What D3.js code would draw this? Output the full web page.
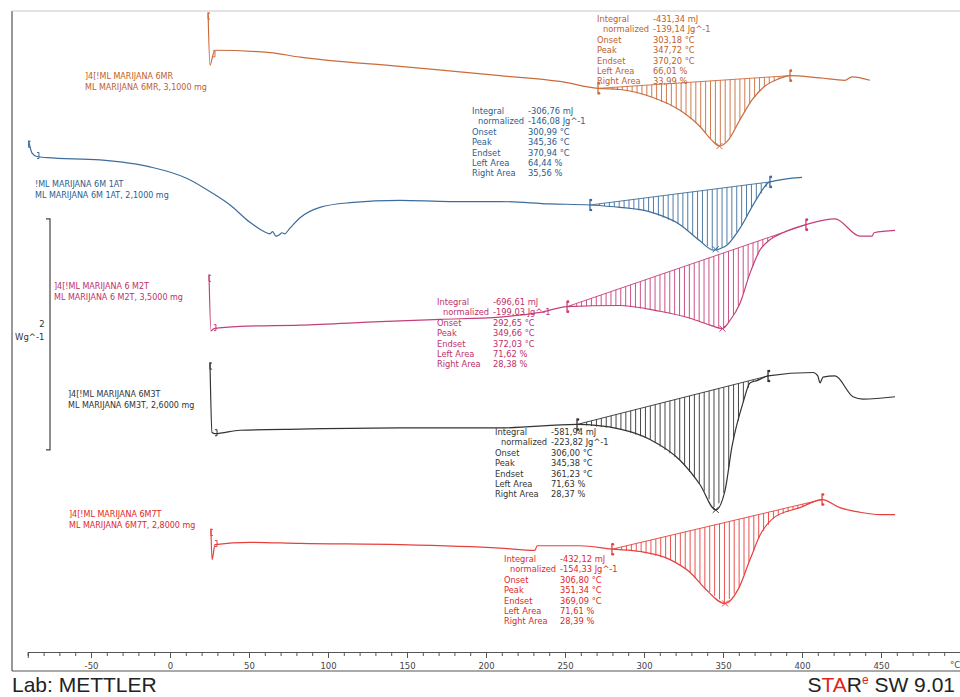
<!DOCTYPE html>
<html><head><meta charset="utf-8">
<script src="https://cdn.jsdelivr.net/npm/d3@7/dist/d3.min.js"></script>
<style>body{margin:0;background:#fff}svg{display:block}</style>
</head><body>
<svg id="chart" width="960" height="697"></svg>
<script>
// ---------------- DATA ----------------
// Temperature axis ticks (°C)
const majorTicks = [-50, 0, 50, 100, 150, 200, 250, 300, 350, 400, 450];
const minorTicks = d3.range(-90, 501, 10);

// Curves: [temperature °C, heat flow W/g (shifted display value)]
const curve6MR = [[24.1,5.54],[25.3,5.08],[27.2,5.17],[28.5,5.21],[63.3,5.19],[82.3,5.15],[145.6,5.07],[208.9,4.99],[246.8,4.94],[270.9,4.88],[284.8,4.87],[303.8,4.81],[322.8,4.69],[335.4,4.55],[343,4.43],[347.7,4.38],[353.2,4.43],[360.8,4.61],[368.4,4.78],[376.6,4.90],[384.8,4.96],[392.4,4.99],[411.4,4.97],[427.2,4.95],[431.6,4.98],[443,4.95]];
const curve6M1AT = [[-89.5,4.43],[-87.3,4.32],[-84.2,4.29],[-77.8,4.28],[-44.3,4.26],[-12.7,4.20],[10.8,4.10],[27.2,3.97],[38,3.87],[50.6,3.72],[58.2,3.65],[61,3.63],[63.3,3.62],[65,3.64],[67.1,3.60],[69,3.61],[70.9,3.63],[72.5,3.62],[75.9,3.67],[82.3,3.76],[94.9,3.85],[113.9,3.89],[145.6,3.91],[177.2,3.90],[208.9,3.90],[240.5,3.88],[265.8,3.87],[284.8,3.85],[303.8,3.81],[322.8,3.70],[335.4,3.56],[343.7,3.48],[351.3,3.51],[360.8,3.67],[370.3,3.90],[379.7,4.07],[400,4.11]];
const curve6M2T = [[24.7,3.27],[25.9,2.78],[27.8,2.80],[44.3,2.82],[82.3,2.83],[132.9,2.86],[170.9,2.88],[208.9,2.90],[234.2,2.94],[251.3,2.99],[284.2,3.00],[310,2.95],[329.1,2.89],[341.8,2.83],[349.7,2.80],[354.4,2.87],[360.8,3.02],[367.1,3.28],[373.4,3.48],[379.7,3.57],[387.9,3.63],[402.5,3.70],[420.9,3.75],[436.7,3.60],[444.3,3.60],[445.6,3.63],[458.9,3.65]];
const curve6M3T = [[25.3,2.51],[26.6,1.90],[28.5,1.89],[44.3,1.92],[82.3,1.93],[145.6,1.94],[208.9,1.94],[257.6,1.97],[284.8,1.93],[303.8,1.84],[322.8,1.66],[335.4,1.45],[345.4,1.23],[351.3,1.40],[355.7,1.78],[362.7,2.16],[367.1,2.33],[371.5,2.35],[378.5,2.39],[407,2.42],[410,2.39],[411.4,2.33],[413.3,2.38],[420.9,2.39],[432.3,2.21],[438.6,2.19],[458.9,2.21]];
const curve6M7T = [[25.9,1.07],[26.6,0.80],[28.5,0.93],[50.6,0.95],[82.3,0.94],[145.6,0.93],[208.9,0.90],[231,0.88],[232.3,0.92],[259.5,0.92],[279.7,0.89],[297.5,0.87],[316.5,0.80],[329.1,0.69],[338.6,0.55],[351.3,0.42],[359.5,0.54],[367.1,0.80],[373.4,1.01],[382.9,1.17],[398.7,1.25],[412.7,1.32],[424,1.25],[436.7,1.21],[449.4,1.19],[458.9,1.19]];

// Sample descriptors
const sampleIds    = ["]4[!ML MARIJANA 6MR", "!ML MARIJANA 6M 1AT", "]4[!ML MARIJANA 6 M2T", "]4[!ML MARIJANA 6M3T", "]4[!ML MARIJANA 6M7T"];
const sampleNames  = ["ML MARIJANA 6MR", "ML MARIJANA 6M 1AT", "ML MARIJANA 6 M2T", "ML MARIJANA 6M3T", "ML MARIJANA 6M7T"];
const sampleMass   = ["3,1000", "2,1000", "3,5000", "2,6000", "2,8000"];

// Integration limits (°C)
const intStart = [270.9, 265.8, 251.3, 257.6, 279.7];
const intEnd   = [392.4, 379.7, 402.5, 378.5, 412.7];

// Evaluation results
const integralMJ  = [-431.34, -306.76, -696.61, -581.94, -432.12];
const normalized  = [-139.14, -146.08, -199.03, -223.82, -154.33];
const onsetC      = [303.18, 300.99, 292.65, 306.00, 306.80];
const peakC       = [347.72, 345.36, 349.66, 345.38, 351.34];
const endsetC     = [370.20, 370.94, 372.03, 361.23, 369.09];
const leftArea    = [66.01, 64.44, 71.62, 71.63, 71.61];
const rightArea   = [33.99, 35.56, 28.38, 28.37, 28.39];

// ---------------- STYLE / LAYOUT ----------------
const curves = [curve6MR, curve6M1AT, curve6M2T, curve6M3T, curve6M7T];
const lineColors = ["#c96c3c", "#3d6d9c", "#c4407a", "#333333", "#e6403c"];
const textColors = ["#c0602a", "#2b5d8f", "#c0306a", "#333333", "#e02828"];
const labelPos = [[85,79],[35,187],[54,289],[68,397],[69,517]];
const annoPos  = [[597,22],[472,114],[437,305],[495,435],[504,562]];

const svg = d3.select("#chart");
const x = d3.scaleLinear().domain([-90, 500]).range([27.8, 960]);
const y = d3.scaleLinear().domain([0, 5.6]).range([652, 652 - 5.6 * 115.5]);

// frame
svg.append("line").attr("x1",12).attr("x2",12).attr("y1",11).attr("y2",671).attr("stroke","#555").attr("stroke-width",1.2);
svg.append("line").attr("x1",12).attr("x2",960).attr("y1",671).attr("y2",671).attr("stroke","#555").attr("stroke-width",1.2);
svg.append("line").attr("x1",12).attr("x2",960).attr("y1",11).attr("y2",11).attr("stroke","#c8c8c8").attr("stroke-width",1);

// axis
const gMinor = svg.append("g").attr("transform","translate(0,652)")
  .call(d3.axisBottom(x).tickValues(minorTicks).tickSize(4).tickFormat(""));
const gMajor = svg.append("g").attr("transform","translate(0,652)")
  .call(d3.axisBottom(x).tickValues(majorTicks).tickSize(6).tickPadding(5).tickFormat(d => String(d)));
[gMinor, gMajor].forEach(g => {
  g.select(".domain").attr("stroke","#555");
  g.selectAll(".tick line").attr("stroke","#555");
  g.selectAll("text").attr("font-family","DejaVu Sans").attr("font-size",8.5).attr("fill","#444");
});
svg.append("text").attr("x",955).attr("y",668).attr("text-anchor","middle")
  .attr("font-family","DejaVu Sans").attr("font-size",8.5).attr("fill","#444").text("°C");

// scale bar (2 W/g)
const sbX = 50, sbTop = y(3.75), sbBot = y(3.75) + (y(0) - y(2));
svg.append("path").attr("d",`M${sbX-4},${sbTop}H${sbX}V${sbBot}H${sbX-4}`)
  .attr("fill","none").attr("stroke","#444").attr("stroke-width",1.2);
svg.append("text").attr("x",42).attr("y",327).attr("text-anchor","middle").attr("font-family","DejaVu Sans")
  .attr("font-size",8.5).attr("fill","#333").text("2");
svg.append("text").attr("x",15).attr("y",340).attr("font-family","DejaVu Sans")
  .attr("font-size",8.5).attr("fill","#333").text("Wg^-1");

// helpers
function valAt(data, T) {
  for (let i = 0; i < data.length - 1; i++) {
    const a = data[i], b = data[i+1];
    if (T >= a[0] && T <= b[0]) return a[1] + (b[1]-a[1]) * (T - a[0]) / (b[0]-a[0]);
  }
  return data[data.length-1][1];
}
const line = d3.line().x(d => x(d[0])).y(d => y(d[1])).curve(d3.curveMonotoneX);
const fmt = v => v.toFixed(2).replace(".", ",");

curves.forEach((data, i) => {
  const col = lineColors[i], tcol = textColors[i];
  const g = svg.append("g");
  const t0 = intStart[i], t1 = intEnd[i];
  const v0 = valAt(data, t0), v1 = valAt(data, t1);
  const base = T => v0 + (v1 - v0) * (T - t0) / (t1 - t0);
  // hatch
  for (let T = t0 + 3; T < t1; T += 3.1) {
    const vc = valAt(data, T), vb = base(T);
    if (vb - vc > 0.01) {
      g.append("line").attr("x1",x(T)).attr("x2",x(T)).attr("y1",y(vb)).attr("y2",y(vc))
        .attr("stroke",col).attr("stroke-width",0.9);
    }
  }
  // baseline
  g.append("line").attr("x1",x(t0)).attr("x2",x(t1)).attr("y1",y(v0)).attr("y2",y(v1))
    .attr("stroke",col).attr("stroke-width",0.9);
  // curve
  g.append("path").attr("d", line(data)).attr("fill","none").attr("stroke",col).attr("stroke-width",1.2);
  // limit markers
  [[t0,v0],[t1,v1]].forEach(([T,v]) => {
    g.append("line").attr("x1",x(T)).attr("x2",x(T)).attr("y1",y(v)-6).attr("y2",y(v)+6)
      .attr("stroke",col).attr("stroke-width",1.3);
    [-5,5].forEach(dy => g.append("circle").attr("cx",x(T)+1).attr("cy",y(v)+dy).attr("r",1.3).attr("fill",col));
  });
  // peak cross
  const px = x(peakC[i]), py = y(valAt(data, peakC[i]));
  g.append("path").attr("d",`M${px-3},${py-3}L${px+3},${py+3}M${px-3},${py+3}L${px+3},${py-3}`)
    .attr("stroke",col).attr("stroke-width",1);
  // start brackets
  const s0 = data[0], s2 = data[2];
  g.append("path").attr("d",`M${x(s0[0])+2},${y(s0[1])+1}h-2v6h2`).attr("fill","none").attr("stroke",col).attr("stroke-width",1);
  g.append("path").attr("d",`M${x(s2[0])},${y(s2[1])-4}h2v6h-2`).attr("fill","none").attr("stroke",col).attr("stroke-width",1);

  // sample label
  const [lx, ly] = labelPos[i];
  const lt = svg.append("text").attr("font-family","DejaVu Sans").attr("font-size",8).attr("fill",tcol);
  lt.append("tspan").attr("x",lx).attr("y",ly).text(sampleIds[i]);
  lt.append("tspan").attr("x",lx).attr("y",ly+11).text(`${sampleNames[i]}, ${sampleMass[i]} mg`);

  // annotation
  const [ax, ay] = annoPos[i];
  const names = ["Integral","normalized","Onset","Peak","Endset","Left Area","Right Area"];
  const vals = [`${fmt(integralMJ[i])} mJ`, `${fmt(normalized[i])} Jg^-1`, `${fmt(onsetC[i])} °C`,
    `${fmt(peakC[i])} °C`, `${fmt(endsetC[i])} °C`, `${fmt(leftArea[i])} %`, `${fmt(rightArea[i])} %`];
  names.forEach((n, k) => {
    svg.append("text").attr("x", ax + (k === 1 ? 6 : 0)).attr("y", ay + k*10.4)
      .attr("font-family","DejaVu Sans").attr("font-size",8.3).attr("fill",tcol).text(n);
    svg.append("text").attr("x", ax + 56).attr("y", ay + k*10.4)
      .attr("font-family","DejaVu Sans").attr("font-size",8.3).attr("fill",tcol).text(vals[k]);
  });
});

// footer
svg.append("text").attr("x",12).attr("y",692).attr("font-family","Liberation Sans, Arial").attr("font-size",21)
  .attr("fill","#222").text("Lab: METTLER");
const st = svg.append("text").attr("x",955).attr("y",692).attr("text-anchor","end")
  .attr("font-family","Liberation Sans, Arial").attr("font-size",21).attr("fill","#222");
st.append("tspan").text("S");
st.append("tspan").attr("fill","#e2231a").text("TA");
st.append("tspan").text("R");
st.append("tspan").attr("fill","#e2231a").attr("font-size",12).attr("dy",-8).text("e");
st.append("tspan").attr("dy",8).text(" SW 9.01");
</script>
</body></html>
